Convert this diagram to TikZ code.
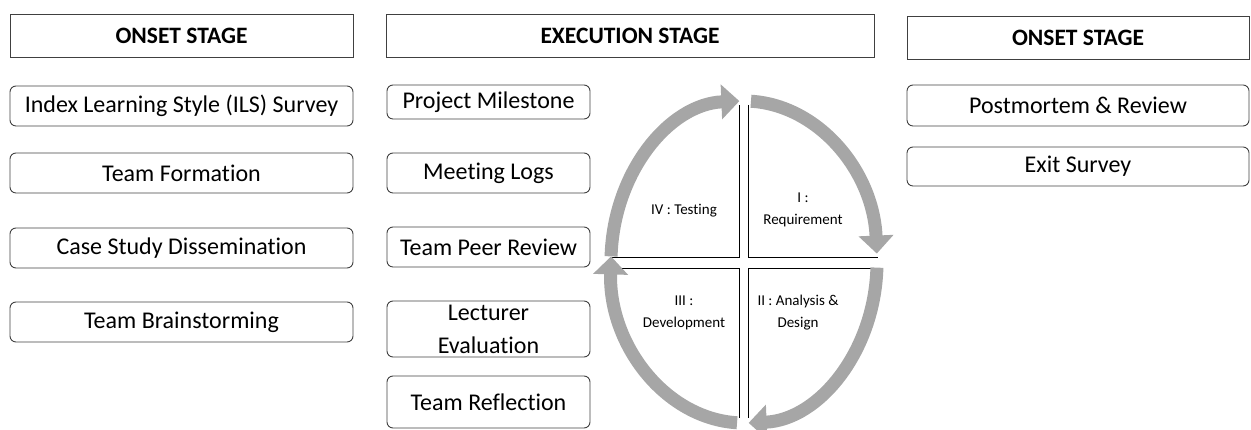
\documentclass[tikz,border=0pt]{standalone}
\usepackage{fontspec}
\setmainfont[Ligatures=NoCommon]{Carlito}
\usepackage{tikz}
\usetikzlibrary{arrows.meta}
\definecolor{cyclegray}{HTML}{A6A6A6}
\definecolor{boxline}{HTML}{404040}

\tikzset{
  stagebox/.style={draw=boxline, line width=0.9pt, minimum height=43pt,
    font=\fontsize{23.5}{26}\selectfont\bfseries, inner sep=0pt},
  itembox/.style={draw=boxline, line width=0.9pt, rounded corners=6pt,
    font=\fontsize{24}{33}\selectfont, inner sep=0pt, align=center},
  phase/.style={font=\fontsize{15}{22}\selectfont, align=center},
  cyclearrow/.style={cyclegray, line width=13pt,
    -{Triangle[width=34pt,length=18pt]}},
}

\begin{document}
\begin{tikzpicture}[x=1pt,y=1pt]
            \useasboundingbox (0,0) rectangle (1251,430);
            % stage headers
            \node[stagebox, minimum width=343pt] (onset) at (181.5,394.5) {ONSET STAGE};
            \node[stagebox, minimum width=488pt] (exec) at (630,394) {EXECUTION STAGE};
            \node[stagebox, minimum width=342pt] (close) at (1078,392.5) {ONSET STAGE};
            % onset items
            \node[itembox, minimum width=343pt, minimum height=40pt] (ils) at (181.5,324) {Index Learning Style (ILS) Survey};
            \node[itembox, minimum width=343pt, minimum height=40pt] (form) at (181.5,257) {Team Formation};
            \node[itembox, minimum width=343pt, minimum height=40pt] (case) at (181.5,182) {Case Study Dissemination};
            \node[itembox, minimum width=343pt, minimum height=40pt] (brain) at (181.5,108) {Team Brainstorming};
            % execution items
            \node[itembox, minimum width=203pt, minimum height=34pt] (mile) at (488.5,328) {Project Milestone};
            \node[itembox, minimum width=203pt, minimum height=40pt] (logs) at (488.5,257) {Meeting Logs};
            \node[itembox, minimum width=203pt, minimum height=40pt] (peer) at (488.5,183) {Team Peer Review};
            \node[itembox, minimum width=203pt, minimum height=56pt] (lect) at (488.5,101) {Lecturer\\Evaluation};
            \node[itembox, minimum width=203pt, minimum height=52pt] (refl) at (488.5,28) {Team Reflection};
            % closing items
            \node[itembox, minimum width=342pt, minimum height=41pt] (post) at (1078,324.5) {Postmortem \& Review};
            \node[itembox, minimum width=342pt, minimum height=39pt] (exit) at (1078,263.5) {Exit Survey};
            % cycle quadrants
            \coordinate (c) at (744,168);
            \draw[line width=0.9pt] (611,173) -- (739,173) -- (739,325);
            \draw[line width=0.9pt] (748,325) -- (748,173) -- (878,173);
            \draw[line width=0.9pt] (611,162) -- (739,162) -- (739,12);
            \draw[line width=0.9pt] (878,162) -- (748,162) -- (748,12);
            % cycle arrows
            \draw[cyclearrow] ([shift={(87:133pt and 161pt)}]c) arc[start angle=87, end angle=3, x radius=133, y radius=161];
            \draw[cyclearrow] ([shift={(-2:133pt and 161pt)}]c) arc[start angle=-2, end angle=-88, x radius=133, y radius=161];
            \draw[cyclearrow] ([shift={(-93:133pt and 161pt)}]c) arc[start angle=-93, end angle=-182, x radius=133, y radius=161];
            \draw[cyclearrow] ([shift={(178:133pt and 161pt)}]c) arc[start angle=178, end angle=92, x radius=133, y radius=161];
            % phase labels
            \node[phase] (test) at (684,219) {IV : Testing};
            \node[phase] (req) at (803,220) {I :\\Requirement};
            \node[phase] (dev) at (684,117) {III :\\Development};
            \node[phase] (ana) at (798,117) {II : Analysis \&\\Design};
        \end{tikzpicture}
\end{document}
